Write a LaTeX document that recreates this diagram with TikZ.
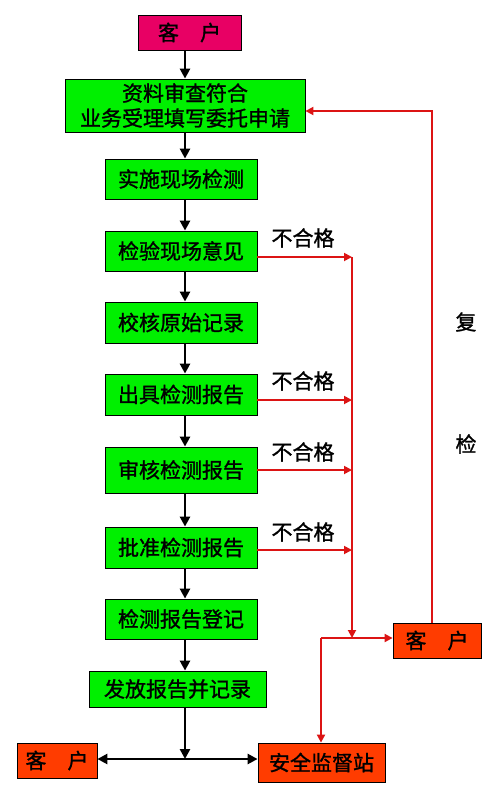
\documentclass[tikz,border=0pt]{standalone}
\usepackage{fontspec}
\setmainfont[FakeBold=1.2]{Noto Sans CJK SC}
\usetikzlibrary{arrows.meta}
\definecolor{boxgreen}{RGB}{0,240,0}
\definecolor{boxpink}{RGB}{232,0,100}
\definecolor{boxorange}{RGB}{255,60,0}
\definecolor{linered}{RGB}{220,20,20}
\tikzset{
  x=1pt, y=-1pt,
  gbox/.style={draw=black, line width=0.8pt, fill=boxgreen, inner sep=0pt, font=\fontsize{21}{25}\selectfont, align=center},
  obox/.style={draw=black, line width=0.8pt, fill=boxorange, inner sep=0pt, font=\fontsize{21}{25}\selectfont},
  pbox/.style={draw=black, line width=0.8pt, fill=boxpink, inner sep=0pt, font=\fontsize{21}{25}\selectfont},
  blk/.style={line width=2.8pt, -{Triangle[length=10pt,width=10pt]}},
  blk2/.style={line width=2.8pt, {Triangle[length=10pt,width=10pt]}-{Triangle[length=10pt,width=10pt]}},
  red/.style={draw=linered, line width=1.8pt, -{Triangle[length=8pt,width=8pt]}},
  redl/.style={draw=linered, line width=1.8pt},
  lbl/.style={font=\fontsize{21}{24}\selectfont, inner sep=0pt}
}
\begin{document}
\begin{tikzpicture}
\useasboundingbox (0,0) rectangle (500,801);
\fill[white] (0,0) rectangle (500,801);

\node[pbox, minimum width=103pt, minimum height=35pt] (c1) at (189.5,32.5) {客\hspace{1em}户};
\node[gbox, minimum width=240pt, minimum height=53pt] (n2) at (185,105.5) {资料审查符合\\业务受理填写委托申请};
\node[gbox, minimum width=152pt, minimum height=40pt] (n3) at (181,179) {实施现场检测};
\node[gbox, minimum width=152pt, minimum height=40pt] (n4) at (181,251) {检验现场意见};
\node[gbox, minimum width=152pt, minimum height=41pt] (n5) at (181,322.5) {校核原始记录};
\node[gbox, minimum width=152pt, minimum height=41pt] (n6) at (181,394.5) {出具检测报告};
\node[gbox, minimum width=152pt, minimum height=46pt] (n7) at (181,470) {审核检测报告};
\node[gbox, minimum width=152pt, minimum height=41pt] (n8) at (181,547.5) {批准检测报告};
\node[gbox, minimum width=152pt, minimum height=40pt] (n9) at (181,619) {检测报告登记};
\node[gbox, minimum width=177pt, minimum height=36pt] (n10) at (177.5,689) {发放报告并记录};
\node[obox, minimum width=80pt, minimum height=35pt] (cl) at (57,760.5) {客\hspace{1em}户};
\node[obox, minimum width=127pt, minimum height=39pt] (st) at (321.5,762.5) {安全监督站};
\node[obox, minimum width=88pt, minimum height=35pt] (cr) at (437,640.5) {客\hspace{1em}户};

% black vertical arrows
\coordinate (ax) at (185,0);
\draw[blk] (c1.south -| ax) -- (n2.north -| ax);
\draw[blk] (n2.south -| ax) -- (n3.north -| ax);
\draw[blk] (n3.south -| ax) -- (n4.north -| ax);
\draw[blk] (n4.south -| ax) -- (n5.north -| ax);
\draw[blk] (n5.south -| ax) -- (n6.north -| ax);
\draw[blk] (n6.south -| ax) -- (n7.north -| ax);
\draw[blk] (n7.south -| ax) -- (n8.north -| ax);
\draw[blk] (n8.south -| ax) -- (n9.north -| ax);
\draw[blk] (n9.south -| ax) -- (n10.north -| ax);
\coordinate (jb) at (185,759);
\draw[blk] (n10.south -| ax) -- (jb);
\draw[blk2] (cl.east |- jb) -- (st.west |- jb);

% red reject lines
\coordinate (rx) at (352,0);
\coordinate (r4) at (352,257);
\coordinate (r6) at (352,400);
\coordinate (r7) at (352,470);
\coordinate (r8) at (352,550);
\draw[red] (n4.east |- r4) -- (r4);
\draw[red] (n6.east |- r6) -- (r6);
\draw[red] (n7.east |- r7) -- (r7);
\draw[red] (n8.east |- r8) -- (r8);
\coordinate (rj) at (352,638);
\draw[red] (r4) -- (rj);
\coordinate (rl) at (321,638);
\draw[redl] (rl) -- (rj);
\draw[red] (rj) -- (cr.west |- rj);
\draw[red] (rl) -- (rl |- st.north);
\coordinate (rt) at (432,111);
\draw[red] (cr.north -| rt) -- (rt) -- (n2.east |- rt);

\node[lbl] (b1) at (303,238) {不合格};
\node[lbl] (b2) at (303,381) {不合格};
\node[lbl] (b3) at (303,452) {不合格};
\node[lbl] (b4) at (303,532) {不合格};
\node[lbl] (f1) at (466,322) {复};
\node[lbl] (f2) at (466,444) {检};
\end{tikzpicture}
\end{document}
